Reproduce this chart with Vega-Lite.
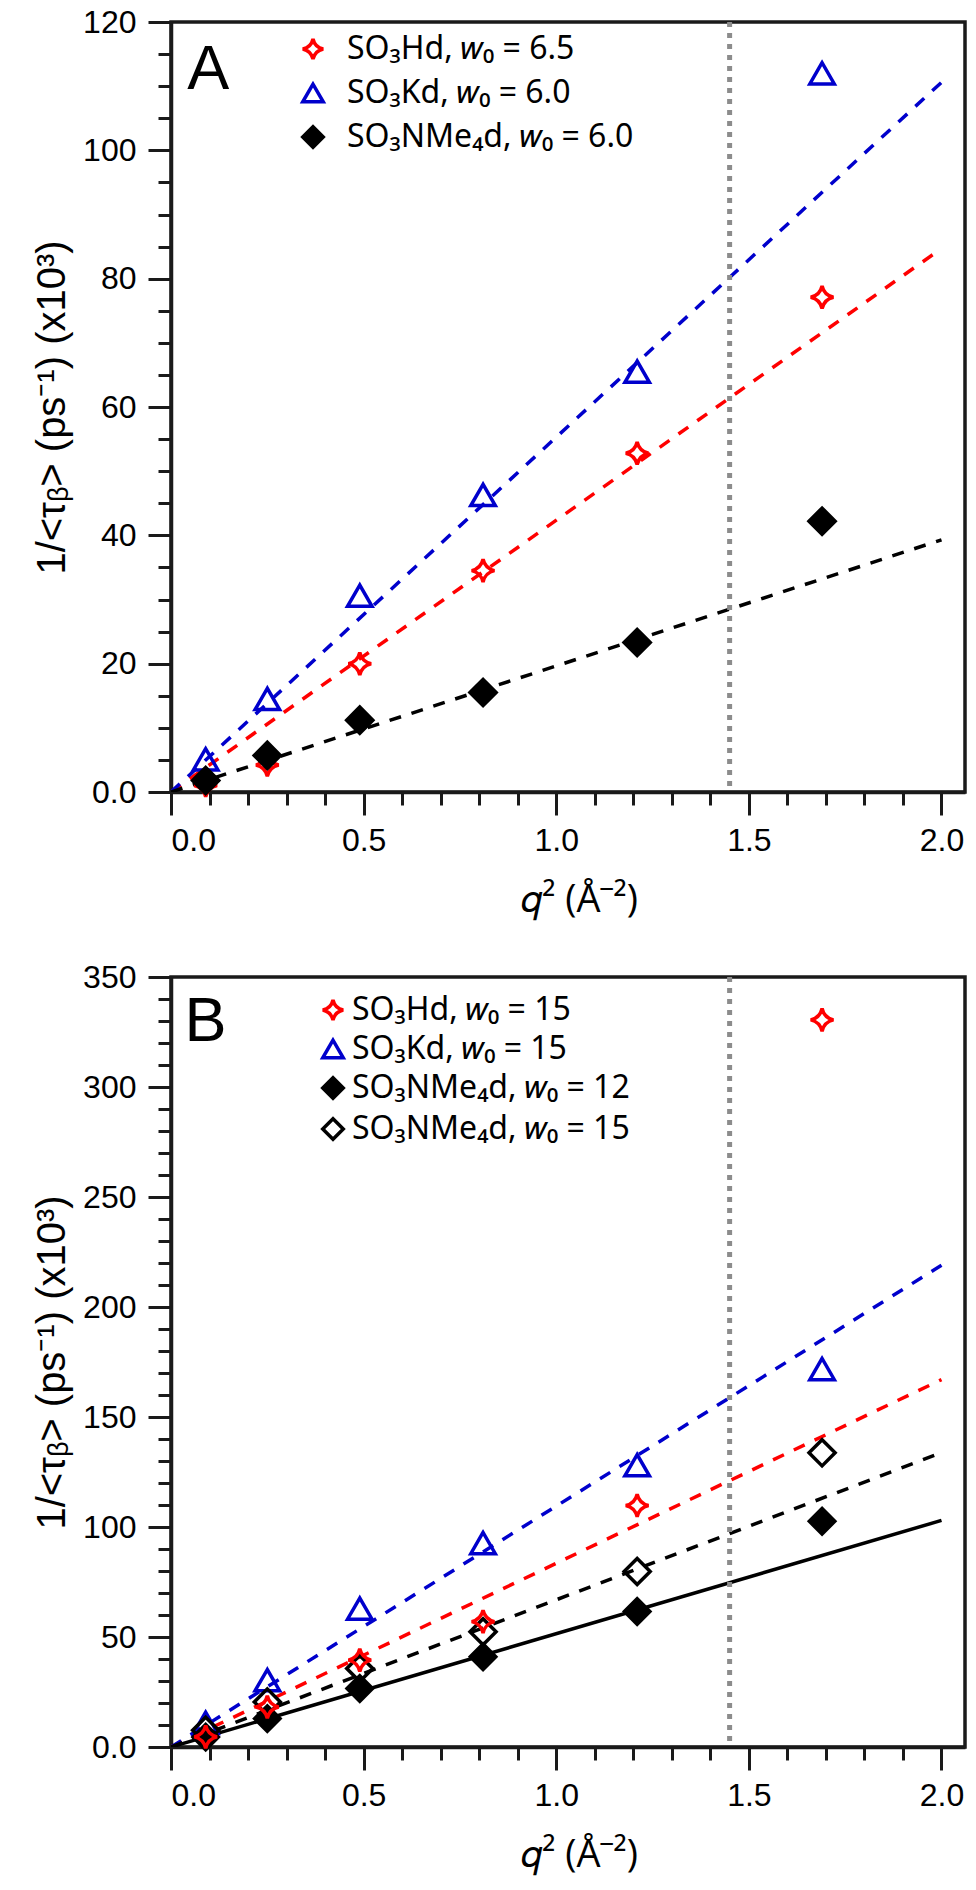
{
  "$schema": "https://vega.github.io/schema/vega-lite/v6.json",
  "background": "white",
  "padding": {"left": 30, "top": 4, "right": 5, "bottom": 5},
  "spacing": 38,
  "config": {
    "view": {"stroke": "#1a1a1a", "strokeWidth": 3.5},
    "axis": {"labelFont": "Liberation Sans", "labelFontSize": 32, "labelColor": "#000", "domainColor": "#1a1a1a", "domainWidth": 3.5, "tickColor": "#1a1a1a", "tickWidth": 3, "grid": false, "titleColor": "#000", "titleFontWeight": "normal"}
  },
  "datasets": {
    "a_pts": [
      {"series": "SO₃Hd, 𝑤₀ = 6.5", "q2": 0.09, "rate": 1.0},
      {"series": "SO₃Hd, 𝑤₀ = 6.5", "q2": 0.25, "rate": 4.2},
      {"series": "SO₃Hd, 𝑤₀ = 6.5", "q2": 0.49, "rate": 20.0},
      {"series": "SO₃Hd, 𝑤₀ = 6.5", "q2": 0.81, "rate": 34.5},
      {"series": "SO₃Hd, 𝑤₀ = 6.5", "q2": 1.21, "rate": 52.8},
      {"series": "SO₃Hd, 𝑤₀ = 6.5", "q2": 1.69, "rate": 77.1},
      {"series": "SO₃Kd, 𝑤₀ = 6.0", "q2": 0.09, "rate": 5.1},
      {"series": "SO₃Kd, 𝑤₀ = 6.0", "q2": 0.25, "rate": 14.5},
      {"series": "SO₃Kd, 𝑤₀ = 6.0", "q2": 0.49, "rate": 30.6},
      {"series": "SO₃Kd, 𝑤₀ = 6.0", "q2": 0.81, "rate": 46.3},
      {"series": "SO₃Kd, 𝑤₀ = 6.0", "q2": 1.21, "rate": 65.5},
      {"series": "SO₃Kd, 𝑤₀ = 6.0", "q2": 1.69, "rate": 112.0},
      {"series": "SO₃NMe₄d, 𝑤₀ = 6.0", "q2": 0.09, "rate": 1.8},
      {"series": "SO₃NMe₄d, 𝑤₀ = 6.0", "q2": 0.25, "rate": 5.7},
      {"series": "SO₃NMe₄d, 𝑤₀ = 6.0", "q2": 0.49, "rate": 11.2},
      {"series": "SO₃NMe₄d, 𝑤₀ = 6.0", "q2": 0.81, "rate": 15.5},
      {"series": "SO₃NMe₄d, 𝑤₀ = 6.0", "q2": 1.21, "rate": 23.3},
      {"series": "SO₃NMe₄d, 𝑤₀ = 6.0", "q2": 1.69, "rate": 42.2}
    ],
    "a_fit": [
      {"fit": "SO₃Hd fit", "q2": 0, "rate": 0},
      {"fit": "SO₃Hd fit", "q2": 2.0, "rate": 84.7},
      {"fit": "SO₃Kd fit", "q2": 0, "rate": 0},
      {"fit": "SO₃Kd fit", "q2": 2.0, "rate": 110.6},
      {"fit": "SO₃NMe₄d fit", "q2": 0, "rate": 0},
      {"fit": "SO₃NMe₄d fit", "q2": 2.0, "rate": 39.3}
    ],
    "b_pts": [
      {"series": "SO₃Hd, 𝑤₀ = 15", "q2": 0.09, "rate": 4.6},
      {"series": "SO₃Hd, 𝑤₀ = 15", "q2": 0.25, "rate": 18.2},
      {"series": "SO₃Hd, 𝑤₀ = 15", "q2": 0.49, "rate": 39.5},
      {"series": "SO₃Hd, 𝑤₀ = 15", "q2": 0.81, "rate": 57.0},
      {"series": "SO₃Hd, 𝑤₀ = 15", "q2": 1.21, "rate": 109.8},
      {"series": "SO₃Hd, 𝑤₀ = 15", "q2": 1.69, "rate": 330.5},
      {"series": "SO₃Kd, 𝑤₀ = 15", "q2": 0.09, "rate": 11.0},
      {"series": "SO₃Kd, 𝑤₀ = 15", "q2": 0.25, "rate": 30.4},
      {"series": "SO₃Kd, 𝑤₀ = 15", "q2": 0.49, "rate": 62.9},
      {"series": "SO₃Kd, 𝑤₀ = 15", "q2": 0.81, "rate": 92.7},
      {"series": "SO₃Kd, 𝑤₀ = 15", "q2": 1.21, "rate": 128.1},
      {"series": "SO₃Kd, 𝑤₀ = 15", "q2": 1.69, "rate": 171.8},
      {"series": "SO₃NMe₄d, 𝑤₀ = 12", "q2": 0.09, "rate": 4.5},
      {"series": "SO₃NMe₄d, 𝑤₀ = 12", "q2": 0.25, "rate": 12.9},
      {"series": "SO₃NMe₄d, 𝑤₀ = 12", "q2": 0.49, "rate": 26.6},
      {"series": "SO₃NMe₄d, 𝑤₀ = 12", "q2": 0.81, "rate": 41.0},
      {"series": "SO₃NMe₄d, 𝑤₀ = 12", "q2": 1.21, "rate": 61.6},
      {"series": "SO₃NMe₄d, 𝑤₀ = 12", "q2": 1.69, "rate": 102.6},
      {"series": "SO₃NMe₄d, 𝑤₀ = 15", "q2": 0.09, "rate": 7.6},
      {"series": "SO₃NMe₄d, 𝑤₀ = 15", "q2": 0.25, "rate": 20.5},
      {"series": "SO₃NMe₄d, 𝑤₀ = 15", "q2": 0.49, "rate": 35.7},
      {"series": "SO₃NMe₄d, 𝑤₀ = 15", "q2": 0.81, "rate": 52.4},
      {"series": "SO₃NMe₄d, 𝑤₀ = 15", "q2": 1.21, "rate": 79.8},
      {"series": "SO₃NMe₄d, 𝑤₀ = 15", "q2": 1.69, "rate": 133.7}
    ],
    "b_fit": [
      {"fit": "SO₃Hd fit", "q2": 0, "rate": 0},
      {"fit": "SO₃Hd fit", "q2": 2.0, "rate": 167.0},
      {"fit": "SO₃Kd fit", "q2": 0, "rate": 0},
      {"fit": "SO₃Kd fit", "q2": 2.0, "rate": 219.0},
      {"fit": "SO₃NMe₄d w12 fit", "q2": 0, "rate": 0},
      {"fit": "SO₃NMe₄d w12 fit", "q2": 2.0, "rate": 103.0},
      {"fit": "SO₃NMe₄d w15 fit", "q2": 0, "rate": 0},
      {"fit": "SO₃NMe₄d w15 fit", "q2": 2.0, "rate": 133.8}
    ]
  },
  "vconcat": [
    {
      "width": 794,
      "height": 770,
      "resolve": {"axis": {"x": "independent", "y": "independent"}},
      "layer": [
        {
          "data": {"name": "a_fit"},
          "transform": [{"filter": "datum.fit == 'SO₃Hd fit'"}],
          "mark": {"type": "line", "strokeWidth": 3.5, "color": "#ff0000", "strokeDash": [12, 11], "clip": true},
          "encoding": {
            "x": {"field": "q2", "type": "quantitative", "scale": {"domain": [0, 2.061], "nice": false, "zero": false},
                  "axis": {"orient": "bottom", "values": [0.1,0.2,0.3,0.4,0.6,0.7,0.8,0.9,1.1,1.2,1.3,1.4,1.6,1.7,1.8,1.9], "labels": false, "domain": false, "tickSize": 13, "title": null}},
            "y": {"field": "rate", "type": "quantitative", "scale": {"domain": [0, 120], "nice": false, "zero": false},
                  "axis": {"orient": "left", "values": [5,10,15,25,30,35,45,50,55,65,70,75,85,90,95,105,110,115], "labels": false, "domain": false, "tickSize": 13, "title": null}}
          }
        },
        {
          "data": {"name": "a_fit"},
          "transform": [{"filter": "datum.fit == 'SO₃Kd fit'"}],
          "mark": {"type": "line", "strokeWidth": 3.5, "color": "#0000cc", "strokeDash": [12, 11], "clip": true},
          "encoding": {
            "x": {"field": "q2", "type": "quantitative", "axis": null},
            "y": {"field": "rate", "type": "quantitative", "axis": null}
          }
        },
        {
          "data": {"name": "a_fit"},
          "transform": [{"filter": "datum.fit == 'SO₃NMe₄d fit'"}],
          "mark": {"type": "line", "strokeWidth": 3.5, "color": "#000000", "strokeDash": [12, 11], "clip": true},
          "encoding": {
            "x": {"field": "q2", "type": "quantitative", "axis": null},
            "y": {"field": "rate", "type": "quantitative", "axis": null}
          }
        },
        {
          "data": {"values": [{}]},
          "mark": {"type": "rule", "color": "#8c8c8c", "strokeWidth": 5, "strokeDash": [5, 6]},
          "encoding": {
            "x": {"datum": 1.45, "type": "quantitative",
                  "axis": {"orient": "bottom", "values": [0, 0.5, 1, 1.5, 2], "format": ".1f", "tickSize": 23, "labelPadding": 10, "title": "𝑞² (Å⁻²)", "titleFont": "Open Sans", "titleFontSize": 38, "titlePadding": 25, "titleX": 408}}
          }
        },
        {
          "data": {"values": [{}]},
          "mark": {"type": "text", "font": "Liberation Sans", "fontSize": 63, "align": "left", "baseline": "alphabetic", "color": "#000"},
          "encoding": {
            "x": {"datum": 0.042, "type": "quantitative", "axis": null},
            "y": {"datum": 109.6, "type": "quantitative",
                  "axis": {"orient": "left", "values": [0, 20, 40, 60, 80, 100, 120], "labelExpr": "datum.value == 0 ? '0.0' : datum.label", "tickSize": 23, "labelPadding": 12, "title": "1/<τᵦ> (ps⁻¹)   (x10³)", "titleFont": "Liberation Sans", "titleFontSize": 40, "titlePadding": 10}},
            "text": {"value": "A"}
          }
        },
        {
          "data": {"name": "a_pts"},
          "transform": [{"filter": "datum.series == 'SO₃Hd, 𝑤₀ = 6.5'"}],
          "mark": {"type": "point", "opacity": 1, "strokeWidth": 3.5, "size": 520},
          "encoding": {
            "x": {"field": "q2", "type": "quantitative", "axis": null},
            "y": {"field": "rate", "type": "quantitative", "axis": null},
            "shape": {"field": "series", "type": "nominal", "scale": {"domain": ["SO₃Hd, 𝑤₀ = 6.5", "SO₃Kd, 𝑤₀ = 6.0", "SO₃NMe₄d, 𝑤₀ = 6.0"], "range": ["M0,-1 Q0.18,-0.18 1,0 Q0.18,0.18 0,1 Q-0.18,0.18 -1,0 Q-0.18,-0.18 0,-1 Z", "triangle-up", "diamond"]},
                      "legend": {"orient": "none", "legendX": 126, "legendY": 11, "title": null, "padding": 0, "labelFont": "Noto Sans", "labelFontSize": 32, "labelColor": "#000", "labelLimit": 600, "labelOffset": 18, "rowPadding": 10, "symbolSize": 420, "symbolStrokeWidth": 3.5}},
            "stroke": {"field": "series", "type": "nominal", "scale": {"domain": ["SO₃Hd, 𝑤₀ = 6.5", "SO₃Kd, 𝑤₀ = 6.0", "SO₃NMe₄d, 𝑤₀ = 6.0"], "range": ["#ff0000", "#0000cc", "#000000"]}},
            "fill": {"field": "series", "type": "nominal", "scale": {"domain": ["SO₃Hd, 𝑤₀ = 6.5", "SO₃Kd, 𝑤₀ = 6.0", "SO₃NMe₄d, 𝑤₀ = 6.0"], "range": ["transparent", "transparent", "#000000"]}}
          }
        },
        {
          "data": {"name": "a_pts"},
          "transform": [{"filter": "datum.series == 'SO₃Kd, 𝑤₀ = 6.0'"}],
          "mark": {"type": "point", "opacity": 1, "strokeWidth": 3.5, "size": 600},
          "encoding": {
            "x": {"field": "q2", "type": "quantitative", "axis": null},
            "y": {"field": "rate", "type": "quantitative", "axis": null},
            "shape": {"field": "series", "type": "nominal"},
            "stroke": {"field": "series", "type": "nominal"},
            "fill": {"field": "series", "type": "nominal"}
          }
        },
        {
          "data": {"name": "a_pts"},
          "transform": [{"filter": "datum.series == 'SO₃NMe₄d, 𝑤₀ = 6.0'"}],
          "mark": {"type": "point", "opacity": 1, "strokeWidth": 2, "size": 800},
          "encoding": {
            "x": {"field": "q2", "type": "quantitative", "axis": null},
            "y": {"field": "rate", "type": "quantitative", "axis": null},
            "shape": {"field": "series", "type": "nominal"},
            "stroke": {"field": "series", "type": "nominal"},
            "fill": {"field": "series", "type": "nominal"}
          }
        }
      ]
    },
    {
      "width": 794,
      "height": 770,
      "resolve": {"axis": {"x": "independent", "y": "independent"}},
      "layer": [
        {
          "data": {"name": "b_fit"},
          "transform": [{"filter": "datum.fit == 'SO₃Hd fit'"}],
          "mark": {"type": "line", "strokeWidth": 3.5, "color": "#ff0000", "strokeDash": [12, 11], "clip": true},
          "encoding": {
            "x": {"field": "q2", "type": "quantitative", "scale": {"domain": [0, 2.061], "nice": false, "zero": false},
                  "axis": {"orient": "bottom", "values": [0.1,0.2,0.3,0.4,0.6,0.7,0.8,0.9,1.1,1.2,1.3,1.4,1.6,1.7,1.8,1.9], "labels": false, "domain": false, "tickSize": 13, "title": null}},
            "y": {"field": "rate", "type": "quantitative", "scale": {"domain": [0, 350], "nice": false, "zero": false},
                  "axis": {"orient": "left", "values": [10,20,30,40,60,70,80,90,110,120,130,140,160,170,180,190,210,220,230,240,260,270,280,290,310,320,330,340], "labels": false, "domain": false, "tickSize": 13, "title": null}}
          }
        },
        {
          "data": {"name": "b_fit"},
          "transform": [{"filter": "datum.fit == 'SO₃Kd fit'"}],
          "mark": {"type": "line", "strokeWidth": 3.5, "color": "#0000cc", "strokeDash": [12, 11], "clip": true},
          "encoding": {
            "x": {"field": "q2", "type": "quantitative", "axis": null},
            "y": {"field": "rate", "type": "quantitative", "axis": null}
          }
        },
        {
          "data": {"name": "b_fit"},
          "transform": [{"filter": "datum.fit == 'SO₃NMe₄d w15 fit'"}],
          "mark": {"type": "line", "strokeWidth": 3.5, "color": "#000000", "strokeDash": [12, 11], "clip": true},
          "encoding": {
            "x": {"field": "q2", "type": "quantitative", "axis": null},
            "y": {"field": "rate", "type": "quantitative", "axis": null}
          }
        },
        {
          "data": {"name": "b_fit"},
          "transform": [{"filter": "datum.fit == 'SO₃NMe₄d w12 fit'"}],
          "mark": {"type": "line", "strokeWidth": 3.5, "color": "#000000", "clip": true},
          "encoding": {
            "x": {"field": "q2", "type": "quantitative", "axis": null},
            "y": {"field": "rate", "type": "quantitative", "axis": null}
          }
        },
        {
          "data": {"values": [{}]},
          "mark": {"type": "rule", "color": "#8c8c8c", "strokeWidth": 5, "strokeDash": [5, 6]},
          "encoding": {
            "x": {"datum": 1.45, "type": "quantitative",
                  "axis": {"orient": "bottom", "values": [0, 0.5, 1, 1.5, 2], "format": ".1f", "tickSize": 23, "labelPadding": 10, "title": "𝑞² (Å⁻²)", "titleFont": "Open Sans", "titleFontSize": 38, "titlePadding": 25, "titleX": 408}}
          }
        },
        {
          "data": {"values": [{}]},
          "mark": {"type": "text", "font": "Liberation Sans", "fontSize": 63, "align": "left", "baseline": "alphabetic", "color": "#000"},
          "encoding": {
            "x": {"datum": 0.035, "type": "quantitative", "axis": null},
            "y": {"datum": 321, "type": "quantitative",
                  "axis": {"orient": "left", "values": [0, 50, 100, 150, 200, 250, 300, 350], "labelExpr": "datum.value == 0 ? '0.0' : datum.label", "tickSize": 23, "labelPadding": 12, "title": "1/<τᵦ> (ps⁻¹)   (x10³)", "titleFont": "Liberation Sans", "titleFontSize": 40, "titlePadding": 10}},
            "text": {"value": "B"}
          }
        },
        {
          "data": {"name": "b_pts"},
          "transform": [{"filter": "datum.series == 'SO₃Kd, 𝑤₀ = 15'"}],
          "mark": {"type": "point", "opacity": 1, "strokeWidth": 3.5, "size": 600},
          "encoding": {
            "x": {"field": "q2", "type": "quantitative", "axis": null},
            "y": {"field": "rate", "type": "quantitative", "axis": null},
            "shape": {"field": "series", "type": "nominal", "scale": {"domain": ["SO₃Hd, 𝑤₀ = 15", "SO₃Kd, 𝑤₀ = 15", "SO₃NMe₄d, 𝑤₀ = 12", "SO₃NMe₄d, 𝑤₀ = 15"], "range": ["M0,-1 Q0.18,-0.18 1,0 Q0.18,0.18 0,1 Q-0.18,0.18 -1,0 Q-0.18,-0.18 0,-1 Z", "triangle-up", "diamond", "diamond"]},
                      "legend": {"orient": "none", "legendX": 146, "legendY": 17, "title": null, "padding": 0, "labelFont": "Noto Sans", "labelFontSize": 32, "labelColor": "#000", "labelLimit": 600, "labelOffset": 3, "rowPadding": 5, "symbolSize": 420, "symbolStrokeWidth": 3.5}},
            "stroke": {"field": "series", "type": "nominal", "scale": {"domain": ["SO₃Hd, 𝑤₀ = 15", "SO₃Kd, 𝑤₀ = 15", "SO₃NMe₄d, 𝑤₀ = 12", "SO₃NMe₄d, 𝑤₀ = 15"], "range": ["#ff0000", "#0000cc", "#000000", "#000000"]}},
            "fill": {"field": "series", "type": "nominal", "scale": {"domain": ["SO₃Hd, 𝑤₀ = 15", "SO₃Kd, 𝑤₀ = 15", "SO₃NMe₄d, 𝑤₀ = 12", "SO₃NMe₄d, 𝑤₀ = 15"], "range": ["transparent", "transparent", "#000000", "transparent"]}}
          }
        },
        {
          "data": {"name": "b_pts"},
          "transform": [{"filter": "datum.series == 'SO₃NMe₄d, 𝑤₀ = 12'"}],
          "mark": {"type": "point", "opacity": 1, "strokeWidth": 2, "size": 760},
          "encoding": {
            "x": {"field": "q2", "type": "quantitative", "axis": null},
            "y": {"field": "rate", "type": "quantitative", "axis": null},
            "shape": {"field": "series", "type": "nominal"},
            "stroke": {"field": "series", "type": "nominal"},
            "fill": {"field": "series", "type": "nominal"}
          }
        },
        {
          "data": {"name": "b_pts"},
          "transform": [{"filter": "datum.series == 'SO₃NMe₄d, 𝑤₀ = 15'"}],
          "mark": {"type": "point", "opacity": 1, "strokeWidth": 3.5, "size": 680},
          "encoding": {
            "x": {"field": "q2", "type": "quantitative", "axis": null},
            "y": {"field": "rate", "type": "quantitative", "axis": null},
            "shape": {"field": "series", "type": "nominal"},
            "stroke": {"field": "series", "type": "nominal"},
            "fill": {"field": "series", "type": "nominal"}
          }
        },
        {
          "data": {"name": "b_pts"},
          "transform": [{"filter": "datum.series == 'SO₃Hd, 𝑤₀ = 15'"}],
          "mark": {"type": "point", "opacity": 1, "strokeWidth": 3.5, "size": 520},
          "encoding": {
            "x": {"field": "q2", "type": "quantitative", "axis": null},
            "y": {"field": "rate", "type": "quantitative", "axis": null},
            "shape": {"field": "series", "type": "nominal"},
            "stroke": {"field": "series", "type": "nominal"},
            "fill": {"field": "series", "type": "nominal"}
          }
        }
      ]
    }
  ],
  "resolve": {"scale": {"x": "independent", "y": "independent", "shape": "independent", "stroke": "independent", "fill": "independent"}}
}
